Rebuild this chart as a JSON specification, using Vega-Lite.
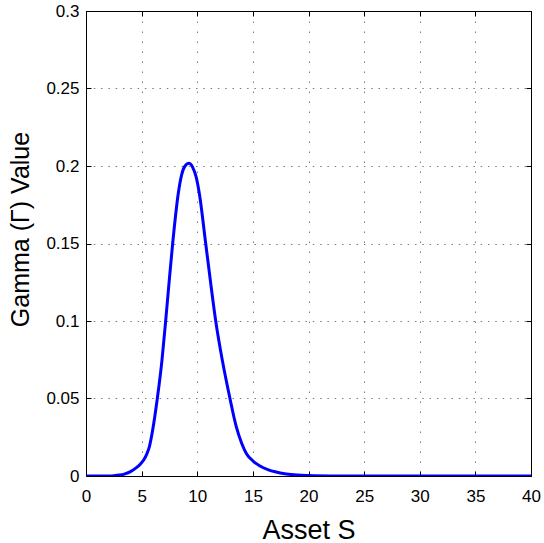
{
  "$schema": "https://vega.github.io/schema/vega-lite/v6.json",
  "width": 445,
  "height": 465,
  "autosize": {"type": "none"},
  "padding": {"left": 86, "top": 11, "right": 13, "bottom": 67},
  "background": "white",
  "config": {
    "view": {"stroke": "black", "strokeWidth": 1},
    "axis": {
      "labelFont": "Liberation Sans",
      "labelFontSize": 17,
      "labelColor": "black",
      "titleFont": "Liberation Sans",
      "titleColor": "black",
      "titleFontWeight": "normal",
      "domainColor": "black",
      "tickColor": "black",
      "gridColor": "#444444",
      "gridOpacity": 0.7
    }
  },
  "data": {
    "values": [
      {"S": 0, "G": 0}, {"S": 1, "G": 0}, {"S": 2, "G": 0.00005}, {"S": 2.5, "G": 0.0002},
      {"S": 3.0, "G": 0.0006}, {"S": 3.5, "G": 0.0014}, {"S": 4.0, "G": 0.0028}, {"S": 4.5, "G": 0.0052},
      {"S": 4.9, "G": 0.0078}, {"S": 5.2, "G": 0.0105}, {"S": 5.45, "G": 0.014}, {"S": 5.7, "G": 0.019},
      {"S": 6.0, "G": 0.03}, {"S": 6.41, "G": 0.05}, {"S": 6.83, "G": 0.0748}, {"S": 7.16, "G": 0.1},
      {"S": 7.46, "G": 0.1243}, {"S": 7.79, "G": 0.15}, {"S": 8.3, "G": 0.1826}, {"S": 8.6, "G": 0.1945},
      {"S": 8.9, "G": 0.2}, {"S": 9.25, "G": 0.2017}, {"S": 9.6, "G": 0.199}, {"S": 9.9, "G": 0.193},
      {"S": 10.18, "G": 0.1826}, {"S": 10.76, "G": 0.15}, {"S": 11.21, "G": 0.1243}, {"S": 11.66, "G": 0.1},
      {"S": 12.25, "G": 0.0748}, {"S": 12.94, "G": 0.05}, {"S": 13.5, "G": 0.032}, {"S": 14.0, "G": 0.021},
      {"S": 14.44, "G": 0.0142}, {"S": 15.04, "G": 0.0095}, {"S": 15.6, "G": 0.0066}, {"S": 16.4, "G": 0.004},
      {"S": 17.0, "G": 0.0027}, {"S": 18.0, "G": 0.0013}, {"S": 19.0, "G": 0.0006}, {"S": 20.0, "G": 0.0003},
      {"S": 22.0, "G": 0.00006}, {"S": 25.0, "G": 0}, {"S": 30.0, "G": 0}, {"S": 35.0, "G": 0}, {"S": 40.0, "G": 0}
    ]
  },
  "layer": [
    {
      "mark": {"type": "line", "color": "#0000FF", "strokeWidth": 3, "interpolate": "monotone", "clip": true},
      "encoding": {
        "x": {
          "field": "S", "type": "quantitative",
          "scale": {"domain": [0, 40], "nice": false, "zero": false},
          "axis": {
            "orient": "bottom", "values": [0, 5, 10, 15, 20, 25, 30, 35, 40],
            "title": "Asset S", "titleFontSize": 27, "titleBaseline": "alphabetic", "titleY": 62,
            "tickSize": -5, "labelPadding": 17, "labelFlush": false,
            "grid": true, "gridDash": [1.5, 8.5]
          }
        },
        "y": {
          "field": "G", "type": "quantitative",
          "scale": {"domain": [0, 0.3], "nice": false, "zero": false},
          "axis": {
            "orient": "left", "values": [0, 0.05, 0.1, 0.15, 0.2, 0.25, 0.3],
            "format": "~g",
            "title": "Gamma (Γ) Value", "titleFontSize": 25, "titleY": 218, "titleX": -53,
            "tickSize": -5, "labelPadding": 12, "labelFlush": false,
            "grid": true, "gridDash": [1.5, 5.8]
          }
        }
      }
    },
    {
      "mark": {"type": "line", "opacity": 0},
      "encoding": {
        "x": {
          "field": "S", "type": "quantitative",
          "scale": {"domain": [0, 40], "nice": false, "zero": false},
          "axis": {"orient": "top", "values": [0, 5, 10, 15, 20, 25, 30, 35, 40], "labels": false, "title": null, "tickSize": -5, "grid": false}
        },
        "y": {
          "field": "G", "type": "quantitative",
          "scale": {"domain": [0, 0.3], "nice": false, "zero": false},
          "axis": {"orient": "right", "values": [0, 0.05, 0.1, 0.15, 0.2, 0.25, 0.3], "labels": false, "title": null, "tickSize": -5, "grid": false}
        }
      }
    }
  ],
  "resolve": {"axis": {"x": "independent", "y": "independent"}}
}
